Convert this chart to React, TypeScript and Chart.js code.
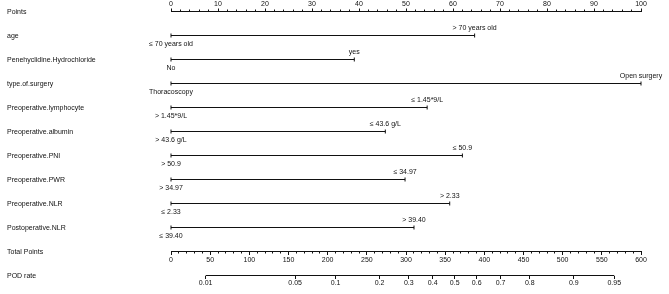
import React, { useEffect, useRef } from 'react';
import { Chart, registerables } from 'chart.js';

Chart.register(...registerables);

// ---- data ----
const ROW_NAMES = [
  'Points',
  'age',
  'Penehyclidine.Hydrochloride',
  'type.of.surgery',
  'Preoperative.lymphocyte',
  'Preoperative.albumin',
  'Preoperative.PNI',
  'Preoperative.PWR',
  'Preoperative.NLR',
  'Postoperative.NLR',
  'Total Points',
  'POD rate',
];

// points reached by the second level of each predictor (first level = 0)
const VAR_MAX_POINTS = [64.6, 39, 100, 54.5, 45.6, 62, 49.8, 59.3, 51.7];
const LABELS_AT_ZERO = ['≤ 70 years old', 'No', 'Thoracoscopy', '> 1.45*9/L', '> 43.6 g/L', '> 50.9', '> 34.97', '≤ 2.33', '≤ 39.40'];
const LABELS_AT_MAX = ['> 70 years old', 'yes', 'Open surgery', '≤ 1.45*9/L', '≤ 43.6 g/L', '≤ 50.9', '≤ 34.97', '> 2.33', '> 39.40'];

const POINTS_MAX = 100;
const POINTS_MAJOR_STEP = 10;
const POINTS_MINOR_STEP = 2;
const TOTAL_MAX = 600;
const TOTAL_MAJOR_STEP = 50;
const TOTAL_MINOR_STEP = 10;

const POD_TICKS = [0.01, 0.05, 0.1, 0.2, 0.3, 0.4, 0.5, 0.6, 0.7, 0.8, 0.9, 0.95];
const POD_TICK_LABELS = ['0.01', '0.05', '0.1', '0.2', '0.3', '0.4', '0.5', '0.6', '0.7', '0.8', '0.9', '0.95'];
// linear predictor = LP_AT_ZERO + LP_PER_POINT * total points
const LP_AT_ZERO = -5.234;
const LP_PER_POINT = 0.014452;

// ---- style ----
const INK = '#111111';
const FONT = "'Liberation Sans', Arial, Helvetica, sans-serif";
const tickFont = { family: FONT, size: 7 };
const rowFont = { family: FONT, size: 7 };

const logit = (p: number) => Math.log(p / (1 - p));

const categoryLabels = {
  id: 'categoryLabels',
  afterDatasetsDraw(chart: any) {
    const { ctx, scales } = chart;
    const xs = scales.x;
    const ys = scales.y;
    ctx.save();
    ctx.font = `7px ${FONT}`;
    ctx.fillStyle = INK;
    ctx.textAlign = 'center';
    ctx.textBaseline = 'middle';
    VAR_MAX_POINTS.forEach((pts, i) => {
      const y = ys.getPixelForValue(i + 1);
      ctx.fillText(LABELS_AT_ZERO[i], xs.getPixelForValue(0), y + 8.5);
      ctx.fillText(LABELS_AT_MAX[i], xs.getPixelForValue(pts), y - 7);
    });
    ctx.restore();
  },
};

export default function App() {
  const canvasRef = useRef<HTMLCanvasElement | null>(null);

  useEffect(() => {
    if (!canvasRef.current) return;

    const varDatasets = VAR_MAX_POINTS.map((pts, i) => ({
      type: 'line' as const,
      label: ROW_NAMES[i + 1],
      xAxisID: 'x',
      yAxisID: 'y',
      data: [
        { x: 0, y: i + 1 },
        { x: pts, y: i + 1 },
      ],
      borderColor: INK,
      borderWidth: 1,
      pointStyle: 'line' as const,
      rotation: 90,
      pointRadius: 2,
      pointBorderWidth: 1,
      pointBorderColor: INK,
      clip: false as const,
    }));

    const podDataset = {
      type: 'line' as const,
      label: 'POD rate',
      xAxisID: 'xPod',
      yAxisID: 'y',
      data: [
        { x: logit(POD_TICKS[0]), y: 11 },
        { x: logit(POD_TICKS[POD_TICKS.length - 1]), y: 11 },
      ],
      borderColor: INK,
      borderWidth: 1,
      pointRadius: 0,
      clip: false as const,
    };

    const chart = new Chart(canvasRef.current, {
      type: 'line',
      data: { datasets: [...varDatasets, podDataset] as any },
      plugins: [categoryLabels],
      options: {
        animation: false,
        responsive: false,
        devicePixelRatio: 1,
        layout: { padding: { left: 7, right: 28, top: 0, bottom: 18.5 } },
        plugins: { legend: { display: false }, tooltip: { enabled: false } },
        scales: {
          x: {
            type: 'linear',
            axis: 'x',
            position: 'top',
            min: 0,
            max: POINTS_MAX,
            afterFit: (s: any) => {
              s.height = 11.5;
            },
            grid: { drawOnChartArea: false, drawTicks: true, tickLength: 3, tickColor: INK, tickWidth: 1 },
            border: { display: true, color: INK, width: 1 },
            ticks: {
              stepSize: POINTS_MAJOR_STEP,
              autoSkip: false,
              maxRotation: 0,
              padding: 0,
              color: INK,
              font: tickFont,
            },
          },
          xPointsMinor: {
            type: 'linear',
            axis: 'x',
            position: { y: 0 },
            min: 0,
            max: POINTS_MAX,
            grid: { drawOnChartArea: false, drawTicks: true, tickLength: -2.5, tickColor: INK, tickWidth: 1 },
            border: { display: false },
            ticks: { display: false, stepSize: POINTS_MINOR_STEP, autoSkip: false },
          },
          xTotal: {
            type: 'linear',
            axis: 'x',
            position: { y: 10 },
            min: 0,
            max: TOTAL_MAX,
            grid: { drawOnChartArea: false, drawTicks: true, tickLength: 3, tickColor: INK, tickWidth: 1 },
            border: { display: true, color: INK, width: 1 },
            ticks: {
              stepSize: TOTAL_MAJOR_STEP,
              autoSkip: false,
              maxRotation: 0,
              padding: 1,
              color: INK,
              font: tickFont,
            },
          },
          xTotalMinor: {
            type: 'linear',
            axis: 'x',
            position: { y: 10 },
            min: 0,
            max: TOTAL_MAX,
            grid: { drawOnChartArea: false, drawTicks: true, tickLength: 1.5, tickColor: INK, tickWidth: 1 },
            border: { display: false },
            ticks: { display: false, stepSize: TOTAL_MINOR_STEP, autoSkip: false },
          },
          xPod: {
            type: 'linear',
            axis: 'x',
            position: { y: 11 },
            min: LP_AT_ZERO,
            max: LP_AT_ZERO + LP_PER_POINT * TOTAL_MAX,
            afterBuildTicks: (s: any) => {
              s.ticks = POD_TICKS.map((p) => ({ value: logit(p) }));
            },
            grid: { drawOnChartArea: false, drawTicks: true, tickLength: 3, tickColor: INK, tickWidth: 1 },
            border: { display: false },
            ticks: {
              autoSkip: false,
              maxRotation: 0,
              padding: 0,
              color: INK,
              font: tickFont,
              callback: (_v: any, i: number) => POD_TICK_LABELS[i],
            },
          },
          y: {
            type: 'linear',
            axis: 'y',
            position: 'left',
            reverse: true,
            min: 0,
            max: ROW_NAMES.length - 1,
            afterFit: (s: any) => {
              s.width = 164;
            },
            afterBuildTicks: (s: any) => {
              s.ticks = ROW_NAMES.map((_, i) => ({ value: i }));
            },
            grid: { display: false, drawTicks: false },
            border: { display: false },
            ticks: {
              autoSkip: false,
              crossAlign: 'far',
              padding: 0,
              labelOffset: 1,
              color: INK,
              font: rowFont,
              callback: (v: any) => ROW_NAMES[Math.round(Number(v))],
            },
          },
        },
      } as any,
    });

    return () => chart.destroy();
  }, []);

  return (
    <div style={{ position: 'absolute', left: 0, top: 0, width: 669, height: 294, background: '#fff' }}>
      <canvas ref={canvasRef} width={669} height={294} style={{ display: 'block' }} />
    </div>
  );
}
